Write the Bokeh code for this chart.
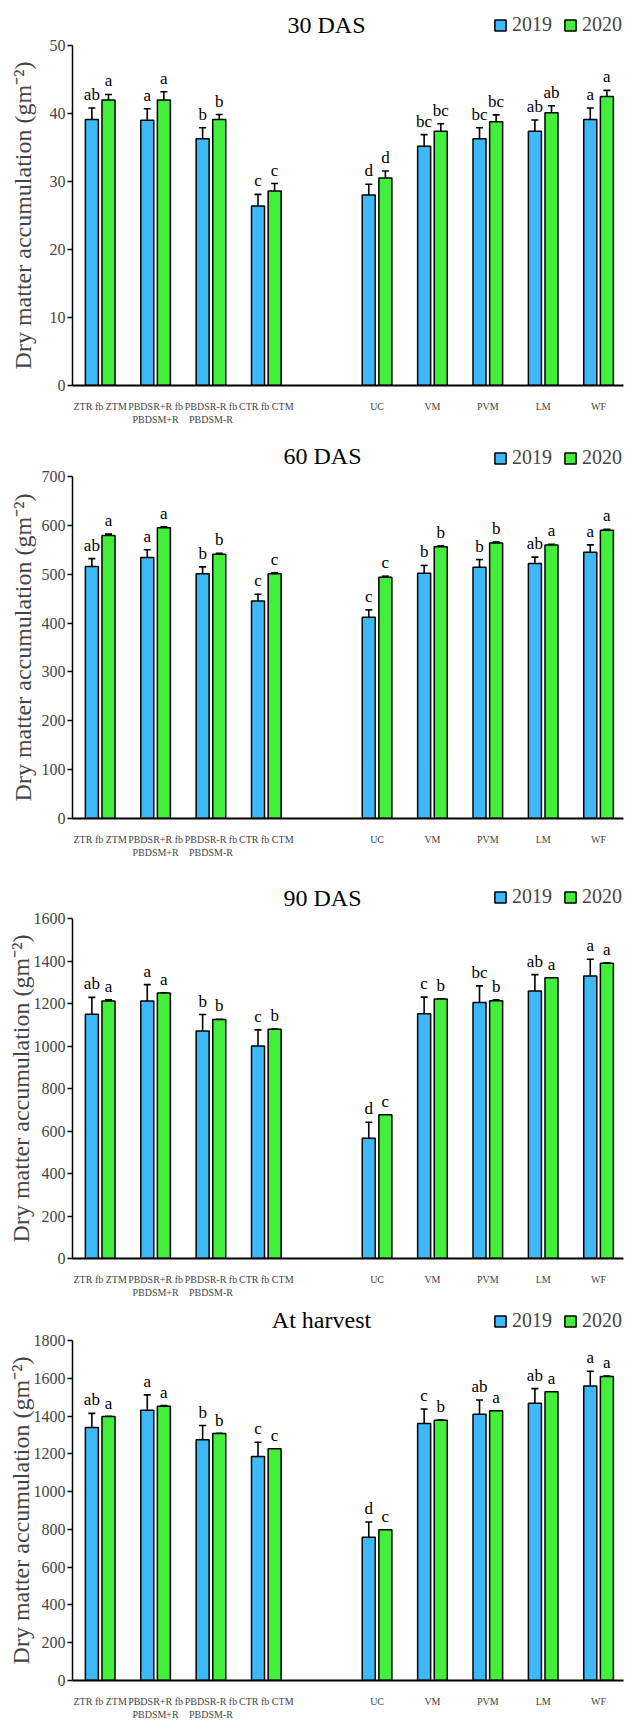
from bokeh.plotting import figure
from bokeh.models import (Range1d, ColumnDataSource, Whisker, Legend, LegendItem,
                          Label, FixedTicker, TeeHead)
from bokeh.layouts import column
from bokeh.embed import file_html
from bokeh.resources import INLINE
from bokeh.core.properties import value

# ---------------- data ----------------
treatments = ["ZTR fb ZTM", "PBDSR+R fb\nPBDSM+R", "PBDSR-R fb\nPBDSM-R", "CTR fb CTM",
              "UC", "VM", "PVM", "LM", "WF"]
years = ["2019", "2020"]
panel_titles = ["30 DAS", "60 DAS", "90 DAS", "At harvest"]
y_label = "Dry matter accumulation (gm\u207b\u00b2)"
y_max = [50, 700, 1600, 1800]
y_step = [10, 100, 200, 200]

das30_2019 = [39.1, 39.0, 36.3, 26.4, 28.0, 35.2, 36.3, 37.4, 39.1]
das30_2019_err = [1.7, 1.7, 1.6, 1.7, 1.6, 1.7, 1.6, 1.65, 1.7]
das30_2020 = [42.0, 42.0, 39.1, 28.6, 30.5, 37.4, 38.8, 40.1, 42.5]
das30_2020_err = [0.8, 1.2, 0.75, 1.1, 1.05, 1.1, 1.0, 1.05, 0.9]
das30_2019_sig = ["ab", "a", "b", "c", "d", "bc", "bc", "ab", "a"]
das30_2020_sig = ["a", "a", "b", "c", "d", "bc", "bc", "ab", "a"]

das60_2019 = [516, 534, 501, 445, 412, 502, 514, 522, 545]
das60_2019_err = [16, 16, 14, 14, 15, 16, 16, 13, 15]
das60_2020 = [579, 595, 541, 501, 494, 556, 564, 560, 590]
das60_2020_err = [3, 2, 2, 2, 2, 2, 2, 1, 2]
das60_2019_sig = ["ab", "a", "b", "c", "c", "b", "b", "ab", "a"]
das60_2020_sig = ["a", "a", "b", "c", "c", "b", "b", "a", "a"]

das90_2019 = [1150, 1212, 1071, 1000, 566, 1152, 1205, 1259, 1330]
das90_2019_err = [79, 77, 77, 76, 75, 78, 78, 77, 78]
das90_2020 = [1212, 1250, 1125, 1079, 676, 1221, 1213, 1321, 1390]
das90_2020_err = [5, 0, 0, 0, 0, 0, 5, 0, 0]
das90_2019_sig = ["ab", "a", "b", "c", "d", "c", "bc", "ab", "a"]
das90_2020_sig = ["a", "a", "b", "b", "c", "b", "b", "a", "a"]

harv_2019 = [1339, 1431, 1275, 1186, 759, 1360, 1410, 1468, 1559]
harv_2019_err = [75, 81, 75, 75, 80, 77, 75, 77, 78]
harv_2020 = [1397, 1452, 1307, 1227, 798, 1378, 1428, 1529, 1610]
harv_2020_err = [0, 3, 0, 0, 0, 0, 0, 0, 0]
harv_2019_sig = ["ab", "a", "b", "c", "d", "c", "ab", "ab", "a"]
harv_2020_sig = ["a", "a", "b", "c", "c", "b", "a", "a", "a"]

panels = [
    (das30_2019, das30_2019_err, das30_2019_sig, das30_2020, das30_2020_err, das30_2020_sig),
    (das60_2019, das60_2019_err, das60_2019_sig, das60_2020, das60_2020_err, das60_2020_sig),
    (das90_2019, das90_2019_err, das90_2019_sig, das90_2020, das90_2020_err, das90_2020_sig),
    (harv_2019, harv_2019_err, harv_2019_sig, harv_2020, harv_2020_err, harv_2020_sig),
]

# ---------------- style / layout ----------------
BLUE = "#3CB9F6"
GREEN = "#43EF3A"
SERIF = "Liberation Serif"
FRAME_W = 551
LEFT, RIGHT = 72, 2
axis_h = [340, 342, 340, 340]        # value-axis height of each panel
TOP_PAD = 7                          # room above the top tick inside each panel
head_h = [38, 39, 48, 30]            # header strip (title + legend) above each panel
border_bottom = [45, 45, 45, 43]
title_x = [254, 250, 250, 249]       # title centre, px from frame left
TITLE_Y = 14                         # title centre, px above header bottom
legend_x = 421
legend_y = [2, 0, 3, 1]
ylabel_standoff = [11, 3, -3, -3]
BAR_W = 0.235
DODGE = 0.15

# group positions: 4 tillage groups, a one-slot gap, then 5 weed groups
xpos = [i if i < 4 else i + 1 for i in range(len(treatments))]


def base_fig(fh, **kw):
    return figure(frame_width=FRAME_W, frame_height=fh, output_backend="svg",
                  toolbar_location=None, min_border_left=LEFT, min_border_right=RIGHT,
                  outline_line_color=None, background_fill_color="white", **kw)


rows = []
for k, (v19, e19, s19, v20, e20, s20) in enumerate(panels):
    h = base_fig(head_h[k], x_range=Range1d(0, 1), y_range=Range1d(0, 1),
                 x_axis_type=None, y_axis_type=None,
                 min_border_top=0, min_border_bottom=0)
    h.xgrid.visible = False
    h.ygrid.visible = False

    p = base_fig(axis_h[k], x_range=Range1d(-0.5, 9.45), y_range=Range1d(0, y_max[k]),
                 min_border_top=TOP_PAD, min_border_bottom=border_bottom[k])
    p.xgrid.visible = False
    p.ygrid.visible = False

    keys = []
    for vals, errs, sigs, color, off in ((v19, e19, s19, BLUE, -DODGE),
                                         (v20, e20, s20, GREEN, DODGE)):
        xs = [x + off for x in xpos]
        src = ColumnDataSource(dict(x=xs, top=vals,
                                    upper=[v + e for v, e in zip(vals, errs)],
                                    lower=[v - e for v, e in zip(vals, errs)],
                                    sig=sigs))
        p.vbar(x="x", top="top", width=BAR_W, bottom=0, source=src,
               fill_color=color, line_color="black", line_width=1.5)
        p.add_layout(Whisker(base="x", upper="upper", lower="lower", source=src,
                             line_color="black", line_width=1.6,
                             upper_head=TeeHead(size=7, line_width=1.6, line_color="black"),
                             lower_head=TeeHead(size=7, line_width=1.6, line_color="black")))
        p.text(x="x", y="upper", text="sig", source=src, text_align="center",
               text_baseline="bottom", y_offset=-4,
               text_font=value(SERIF), text_font_size="17px", text_color="black")
        # legend key for the header strip (same series, not drawn itself)
        keys.append(h.vbar(x="x", top="top", width=BAR_W, bottom=0, source=src,
                           fill_color=color, line_color="black", line_width=1.5,
                           visible=False))

    h.add_layout(Legend(items=[LegendItem(label=years[0], renderers=[keys[0]]),
                               LegendItem(label=years[1], renderers=[keys[1]])],
                        orientation="horizontal", location=(legend_x, legend_y[k]),
                        border_line_color=None, background_fill_alpha=0,
                        inactive_fill_alpha=0,
                        padding=0, margin=0, spacing=11, label_standoff=5,
                        glyph_width=14, glyph_height=14, label_height=20,
                        label_text_font=SERIF, label_text_font_size="20px"))
    h.add_layout(Label(x=title_x[k], y=TITLE_Y, x_units="screen", y_units="screen",
                       text=panel_titles[k], text_align="center",
                       text_baseline="middle", text_font=SERIF,
                       text_font_size="24px", text_color="black"))

    ya = p.yaxis[0]
    ya.ticker = FixedTicker(ticks=list(range(0, y_max[k] + 1, y_step[k])))
    ya.major_label_text_font = SERIF
    ya.major_label_text_font_size = "16px"
    ya.major_label_standoff = 2
    ya.major_tick_out = 5
    ya.major_tick_in = 0
    ya.major_tick_line_width = 1.5
    ya.minor_tick_line_color = None
    ya.axis_line_width = 1.5
    ya.axis_label = y_label
    ya.axis_label_text_font = SERIF
    ya.axis_label_text_font_size = "24px"
    ya.axis_label_text_font_style = "normal"
    ya.axis_label_standoff = ylabel_standoff[k]

    xa = p.xaxis[0]
    xa.ticker = FixedTicker(ticks=xpos)
    xa.major_label_overrides = {x: t for x, t in zip(xpos, treatments)}
    xa.major_label_text_font = SERIF
    xa.major_label_text_font_size = "10px"
    xa.major_label_standoff = 9
    xa.major_tick_line_color = None
    xa.minor_tick_line_color = None
    xa.axis_line_width = 2

    rows.append(h)
    rows.append(p)

layout = column(*rows, spacing=0)
open("out.html", "w").write(file_html(layout, INLINE))
